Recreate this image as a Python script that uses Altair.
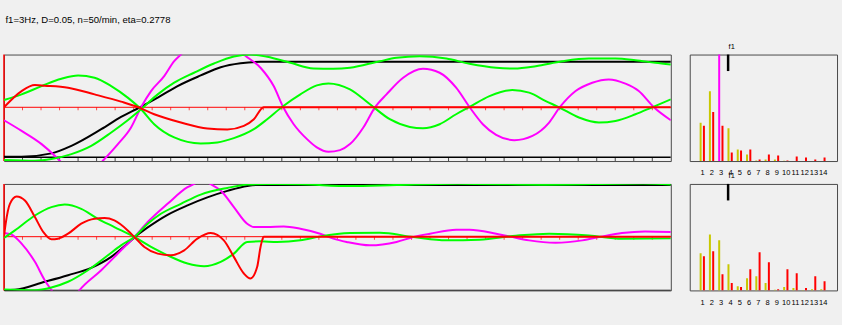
import altair as alt
import pandas as pd

TITLE = "f1=3Hz, D=0.05, n=50/min, eta=0.2778"
FONT = "Liberation Sans"
BG = "#f0f0f0"
FRAME = "#4a4a4a"
BLACK, GREEN, MAGENTA, RED, YELLOW = "#000000", "#00ff00", "#ff00ff", "#ff0000", "#c8c800"

# ---------------- time panels (cam angle in degrees, value in panel units) -------------
tick_deg = list(range(10, 360, 10))
top_base = -50.3          # level of the black base line in the upper panel
bot_base = -54.0          # level of the black base line in the lower panel

top_black_x = [0, 9.5, 25.6, 36.4, 52.5, 63.2, 73.1, 83, 93.7, 106.2, 117, 127.7, 138.5, 360]
top_black_v = [-49.7, -49.7, -46.3, -38.7, -22, -9.7, -0.3, 9.7, 21.3, 32, 40.3, 44.3, 45.7, 45.7]

top_gdisp_x = [0, 16.7, 25.6, 36.4, 47.1, 57.9, 66.8, 74, 83, 91.9, 102.6, 113.4, 124.1, 133.1,
               142.1, 154.6, 167.1, 177.8, 186.8, 202.9, 211.9, 224.4, 238.8, 251.3, 265.7,
               275.5, 287.1, 301.4, 315.8, 330.1, 340.9, 351.6, 360]
top_gdisp_v = [-53, -53.7, -52, -47, -38.7, -25.3, -13, -2, 13, 24.7, 34.7, 44, 51, 53,
               50.7, 44.7, 39, 38.7, 39.7, 46.3, 49.7, 51.3, 49, 43.7, 39.7,
               39, 41.3, 46.3, 49, 49, 47.3, 44.7, 43]

top_gvel_x = [0, 9.5, 20.3, 31, 40, 48.9, 57.9, 66.8, 74, 81.1, 91.9, 106.2, 115.2, 124.1, 134.9,
              142.1, 150.1, 160, 168.9, 175.2, 186.8, 197.6, 208.3, 219.1, 226.2, 235.2, 244.1,
              251.3, 262.1, 274.4, 283.5, 292.5, 299.7, 310.4, 321.2, 330.1, 340.9, 349.9, 360]
top_gvel_v = [7.3, 13, 21.3, 28.7, 32, 29.7, 21.3, 9.7, -2, -17, -30.3, -36.3, -35.3, -31, -22,
              -12, 0.3, 13, 22, 24, 18, 3, -12, -19.7, -21, -17, -7,
              0.3, 11.3, 17.3, 14.7, 6.3, 0, -10.3, -15.3, -13.7, -7, 0, 8]

top_mag_x = [0, 9.5, 20.3, 27.4, 30.1, 41.7, 53.4, 61.5, 68.6, 74, 79.4, 86.5, 91.9, 95.5, 112,
             129.5, 138.5, 145.6, 150.7, 156.4, 163.6, 168.9, 175.2, 181.4, 186.8, 194, 200.2,
             206.5, 215.5, 226.2, 235.2, 244.1, 251.3, 258.5, 265.7, 275.5, 285.3, 294.3, 300.2,
             308.6, 317.6, 326.5, 335.5, 342.7, 350.7, 360]
top_mag_v = [-13, -23.7, -37, -48.7, -53.7, -75, -53.7, -37, -20.3, 0, 16.3, 31.3, 46.3, 53, 90,
             53, 39.7, 21.3, 0.3, -17, -32, -40.3, -44.7, -43, -37, -20.3, -0.3,
             13, 29.7, 38.7, 34.7, 19.7, 0.3, -17, -27.7, -33, -28.7, -15.3, 0.3,
             16.3, 24.7, 28, 23.7, 16.3, 0.3, -13]

top_red_x = [0, 9.5, 16.7, 22, 34.6, 48.9, 63.2, 72.6, 81.1, 95.5, 109.8, 120.6, 129.5, 134.9, 140.2, 360]
top_red_v = [0, 16.3, 22.3, 21.7, 19.7, 13, 5.7, 0, -7, -15.3, -21.3, -22.3, -18.7, -12, 0, 0]

bot_black_x = [0, 5.9, 22, 34.6, 47.1, 57.9, 65, 70.4, 77.6, 88.3, 99.1, 109.8, 120.6, 131.3, 136.7, 360]
bot_black_v = [-53.7, -53.3, -45.3, -38.7, -31.3, -20.3, -9.7, -0.7, 9.3, 22, 31.5, 39.5, 46, 51, 52, 52]

bot_gdisp_x = [0, 16.7, 25.6, 34.6, 45.3, 56.1, 63.2, 70.4, 77.6, 84.7, 95.5, 106.2, 120.6, 131.3,
               142.1, 160, 187, 212, 245, 290, 345, 360]
bot_gdisp_v = [-53, -53.7, -51, -45.3, -33.7, -18.7, -8.7, -0.3, 13, 23, 33, 42.3, 49, 52.3,
               53, 52.7, 50.8, 52, 53.3, 52.2, 53.5, 52.5]

bot_gvel_x = [0, 5.9, 16.7, 25.6, 32.8, 41.7, 50.7, 59.6, 70.4, 79.4, 88.3, 99.1, 108, 117, 124.1,
              131.3, 138.5, 147.4, 160, 170.7, 186.8, 202.9, 221, 238.8, 256.7, 276.4, 294.3,
              315.8, 333.6, 360]
bot_gvel_v = [-1.3, 6.3, 21.3, 29.7, 32.3, 28, 18, 9.7, -0.3, -10.3, -18.7, -27, -29.7, -25.3, -17,
              -5.3, -4.7, -5.3, -3.7, 0.3, 3.7, 4, -0.3, -3.7, -3, 1, 3,
              1.3, -2, -1.7]

bot_mag_x = [0, 4.1, 9.5, 16.7, 22, 25.6, 33, 40.8, 52.5, 63.2, 70.4, 77.6, 88.3, 99.1, 103.5,
             107.2, 110.7, 117, 124.1, 131.3, 134.9, 142.1, 151, 160, 170.7, 177.8, 185, 197.6,
             211.9, 221, 230, 244.1, 251.3, 265.7, 272.8, 283.5, 297.8, 312.2, 323, 333.6, 346.1, 360]
bot_mag_v = [3.7, 2, -7, -25.3, -43.7, -53.7, -75, -53.7, -33.7, -13.7, -0.3, 14.7, 33, 49.7, 53.7,
             58, 53.7, 46.3, 29.7, 13, 9.7, 9.7, 10.3, 8, 3, -2, -5.3, -8.7,
             -5.3, -0.3, 3, 7, 7, 3, 0.3, -3.7, -6, -3.7, 0.3, 3.7, 5.3, 4.7]

bot_red_x = [0, 0.9, 3.2, 6.8, 11.3, 16.7, 21.2, 25.6, 29.2, 34.6, 41.7, 48.9, 54.3, 59.6, 66.8,
             70.4, 75.8, 83, 90.1, 97.3, 104.4, 111.6, 118.7, 124.1, 129.5, 133.1, 136.7, 138.5,
             140.2, 360]
bot_red_v = [0.3, 13, 33, 40.3, 36.3, 19.7, 4.7, -2.7, -2, 3, 13, 18, 18.7, 16.3, 6.3,
             -0.3, -10.3, -17, -18.7, -13.7, -2, 3.7, -3.7, -20.3, -37, -42, -30.3, -10.3,
             0, 0]

# ---------------- harmonic spectra ----------------
harmonics = list(range(1, 15))
f1_order = 3.8   # position of the f1 marker on the harmonic axis
marker_top, marker_bottom = 1.0, 0.845
top_yellow = [0.359, 0.656, 1.2, 0.307, 0.108, 0.062, 0.006, 0.015, 0.015, 0.003, 0, 0, 0, 0]
top_red = [0.331, 0.461, 0.331, 0.080, 0.099, 0.108, 0.015, 0.062, 0.053, 0.006, 0.043, 0.034, 0.015, 0.034]
top_highlight = [3]
bot_yellow = [0.349, 0.526, 0.470, 0.246, 0.040, 0.115, 0.134, 0.069, 0.006, 0.031, 0.022, 0.003, 0.012, 0.012]
bot_red = [0.321, 0.368, 0.153, 0.069, 0.031, 0.199, 0.358, 0.265, 0.012, 0.199, 0.162, 0.022, 0.134, 0.087]
bot_highlight = []

XS = alt.Scale(domain=[0, 360], nice=False, zero=False)
YS = alt.Scale(domain=[-54, 53], nice=False, zero=False)


def curve(xs, vs, color, width=2.0):
    df = pd.DataFrame({"deg": xs, "v": vs})
    return alt.Chart(df).mark_line(color=color, strokeWidth=width, interpolate="monotone",
                                   clip=True).encode(
        x=alt.X("deg:Q", scale=XS, axis=None),
        y=alt.Y("v:Q", scale=YS, axis=None))


def time_panel(series, base, base_ticks):
    zero_ticks = pd.DataFrame({"deg": tick_deg, "v": [0] * len(tick_deg)})
    base_tick_df = pd.DataFrame({"deg": tick_deg, "v": [base] * len(tick_deg)})
    base_df = pd.DataFrame({"v": [base]})
    zero_df = pd.DataFrame({"v": [0]})
    left_df = pd.DataFrame({"deg": [0]})
    layers = [
        alt.Chart(base_df).mark_rule(color=BLACK, strokeWidth=1.5, clip=True).encode(
            y=alt.Y("v:Q", scale=YS, axis=None)),
    ]
    if base_ticks:
        layers.append(alt.Chart(base_tick_df).mark_tick(orient="vertical", color=BLACK, thickness=1,
                                                        size=3, yOffset=2.2).encode(
            x=alt.X("deg:Q", scale=XS, axis=None), y=alt.Y("v:Q", scale=YS, axis=None)))
    layers.append(alt.Chart(zero_df).mark_rule(color=RED, strokeWidth=1).encode(
        y=alt.Y("v:Q", scale=YS, axis=None)))
    layers.append(alt.Chart(zero_ticks).mark_tick(orient="vertical", color=RED, thickness=1,
                                                  size=3, yOffset=1.5).encode(
        x=alt.X("deg:Q", scale=XS, axis=None), y=alt.Y("v:Q", scale=YS, axis=None)))
    layers.append(alt.Chart(left_df).mark_rule(color=RED, strokeWidth=1.5).encode(
        x=alt.X("deg:Q", scale=XS, axis=None)))
    for xs, vs, col in series:
        layers.append(curve(xs, vs, col))
    return alt.layer(*layers).properties(width=670, height=107)


KS = alt.Scale(domain=[0.2, 15.0], nice=False, zero=False)
AS = alt.Scale(domain=[0, 1], nice=False, zero=True)
XAXIS = alt.Axis(values=harmonics, format="d", ticks=False, domain=False, grid=False,
                 labelFontSize=7.5, labelFont=FONT, labelColor=BLACK, labelPadding=8,
                 labelOverlap=False, labelFlush=False, labelBound=False, title=None)


def spectrum_panel(yel, red, highlight):
    dfy = pd.DataFrame({"k": harmonics, "a": yel,
                        "c": ["m" if k in highlight else "y" for k in harmonics]})
    dfr = pd.DataFrame({"k": harmonics, "a": red})
    ybars = alt.Chart(dfy).mark_bar(width=2, xOffset=-1.5, clip=True).encode(
        x=alt.X("k:Q", scale=KS, axis=XAXIS),
        y=alt.Y("a:Q", scale=AS, axis=None),
        color=alt.Color("c:N", scale=alt.Scale(domain=["y", "m"], range=[YELLOW, MAGENTA]),
                        legend=None))
    rbars = alt.Chart(dfr).mark_bar(width=2, xOffset=1.8, color=RED, clip=True).encode(
        x=alt.X("k:Q", scale=KS, axis=XAXIS), y=alt.Y("a:Q", scale=AS, axis=None))
    mk = pd.DataFrame({"r": [f1_order], "t": ["f1"], "top": [marker_top], "bot": [marker_bottom]})
    marker = alt.Chart(mk).mark_rule(color=BLACK, strokeWidth=2.5).encode(
        x=alt.X("r:Q", scale=KS, axis=XAXIS), y=alt.Y("top:Q", scale=AS, axis=None), y2="bot:Q")
    label = alt.Chart(mk).mark_text(align="left", baseline="alphabetic", dx=0.5, dy=-5.5,
                                    fontSize=7.5, font=FONT, color=BLACK).encode(
        x=alt.X("r:Q", scale=KS, axis=XAXIS), y=alt.Y("top:Q", scale=AS, axis=None), text="t:N")
    return alt.layer(ybars, rbars, marker, label).properties(width=148, height=107)


top_left = time_panel([
    (top_black_x, top_black_v, BLACK),
    (top_mag_x, top_mag_v, MAGENTA),
    (top_gvel_x, top_gvel_v, GREEN),
    (top_gdisp_x, top_gdisp_v, GREEN),
    (top_red_x, top_red_v, RED),
], top_base, True)

bot_left = time_panel([
    (bot_black_x, bot_black_v, BLACK),
    (bot_mag_x, bot_mag_v, MAGENTA),
    (bot_gvel_x, bot_gvel_v, GREEN),
    (bot_gdisp_x, bot_gdisp_v, GREEN),
    (bot_red_x, bot_red_v, RED),
], bot_base, False)

top_right = spectrum_panel(top_yellow, top_red, top_highlight)
bot_right = spectrum_panel(bot_yellow, bot_red, bot_highlight)

row1 = alt.hconcat(top_left, top_right, spacing=17)
row2 = alt.hconcat(bot_left, bot_right, spacing=17)

chart = alt.vconcat(row1, row2, spacing=-5).properties(
    title=alt.TitleParams(TITLE, anchor="start", fontSize=9.6, font=FONT, fontWeight="normal",
                          color=BLACK, dx=2.7, offset=18),
    padding={"left": 2, "top": 14, "right": 4, "bottom": 31},
    background=BG,
).configure_view(stroke=FRAME, strokeWidth=1, fill=BG).configure_axis(grid=False)

chart.save("out.html", embed_options={"renderer": "svg", "actions": False})
